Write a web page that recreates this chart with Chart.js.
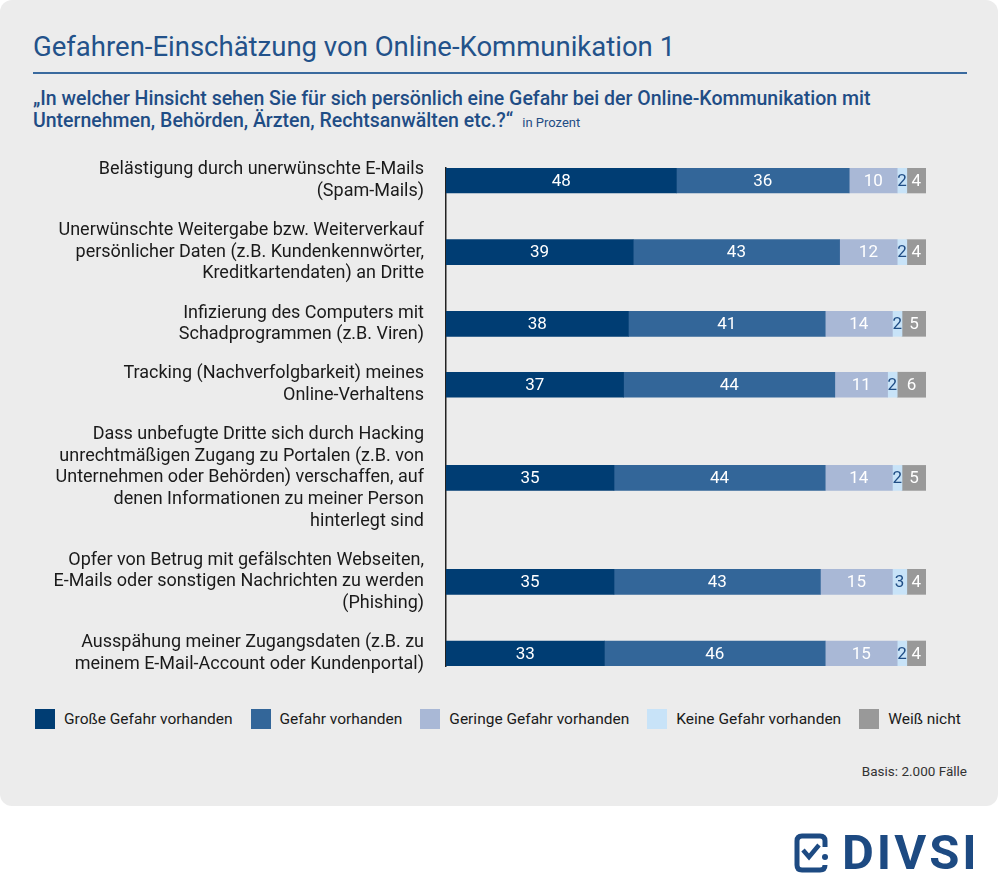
<!DOCTYPE html>
<html lang="de">
<head>
<meta charset="utf-8">
<title>Gefahren-Einschätzung von Online-Kommunikation 1</title>
<script src="https://cdn.jsdelivr.net/npm/chart.js@4.4.1/dist/chart.umd.min.js"></script>
<style>
  html, body { margin: 0; padding: 0; background: #fff; }
  body { width: 1000px; height: 890px; position: relative; overflow: hidden; font-family: Roboto, "Noto Sans", sans-serif; }
  #panel { position: absolute; left: 0; top: 0; width: 998px; height: 806px; background: #ececec; border-radius: 12px; }
  #title { position: absolute; left: 33px; top: 30px; font-size: 27.5px; color: #23528a; white-space: nowrap; }
  #rule { position: absolute; left: 33px; top: 72px; width: 934px; border-top: 2px solid #3a6a9e; }
  #question { position: absolute; left: 33px; top: 88px; font-size: 19.5px; font-weight: 500; color: #1f4d85; line-height: 22px; white-space: nowrap; }
  #question small { font-size: 13px; font-weight: normal; margin-left: 9px; }
  #chartBox { position: absolute; left: 0; top: 140px; width: 1000px; height: 554px; }
  #legend { position: absolute; left: 35px; top: 709px; display: flex; gap: 18px; font-size: 15.5px; color: #1a1a1a; white-space: nowrap; }
  #legend .item { display: flex; align-items: center; }
  #legend .swatch { width: 20px; height: 20px; margin-right: 9px; }
  #basis { position: absolute; right: 33px; top: 763px; font-size: 13.5px; color: #333; }
  #logo { position: absolute; left: 794px; top: 828px; display: flex; align-items: center; }
  #logo span { font-size: 49px; font-weight: bold; color: #1d4a82; letter-spacing: 3px; margin-left: 12px; line-height: 49px; }
</style>
</head>
<body>
<div id="panel"></div>
<div id="title">Gefahren-Einschätzung von Online-Kommunikation 1</div>
<div id="rule"></div>
<div id="question">„In welcher Hinsicht sehen Sie für sich persönlich eine Gefahr bei der Online-Kommunikation mit<br>Unternehmen, Behörden, Ärzten, Rechtsanwälten etc.?“<small>in Prozent</small></div>
<div id="chartBox"><canvas id="chart" width="1000" height="554"></canvas></div>
<div id="legend"></div>
<div id="basis">Basis: 2.000 Fälle</div>
<div id="logo">
  <svg width="36" height="40" viewBox="0 0 36 40">
    <path d="M31 14 V8 Q31 3 26 3 H8 Q3 3 3 8 V32 Q3 37 8 37 H26 Q31 37 31 32" fill="none" stroke="#1d4a82" stroke-width="5"/>
    <circle cx="31" cy="24" r="3" fill="#1d4a82"/>
    <path d="M9 17 L15 24 L25 12" fill="none" stroke="#1d4a82" stroke-width="4.5"/>
  </svg>
  <span>DIVSI</span>
</div>
<script>
const categories = [
  ["Belästigung durch unerwünschte E-Mails", "(Spam-Mails)"],
  ["Unerwünschte Weitergabe bzw. Weiterverkauf", "persönlicher Daten (z.B. Kundenkennwörter,", "Kreditkartendaten) an Dritte"],
  ["Infizierung des Computers mit", "Schadprogrammen (z.B. Viren)"],
  ["Tracking (Nachverfolgbarkeit) meines", "Online-Verhaltens"],
  ["Dass unbefugte Dritte sich durch Hacking", "unrechtmäßigen Zugang zu Portalen (z.B. von", "Unternehmen oder Behörden) verschaffen, auf", "denen Informationen zu meiner Person", "hinterlegt sind"],
  ["Opfer von Betrug mit gefälschten Webseiten,", "E-Mails oder sonstigen Nachrichten zu werden", "(Phishing)"],
  ["Ausspähung meiner Zugangsdaten (z.B. zu", "meinem E-Mail-Account oder Kundenportal)"]
];

const seriesNames = ["Große Gefahr vorhanden", "Gefahr vorhanden", "Geringe Gefahr vorhanden", "Keine Gefahr vorhanden", "Weiß nicht"];
const grosseGefahr = [48, 39, 38, 37, 35, 35, 33];
const gefahr = [36, 43, 41, 44, 44, 43, 46];
const geringeGefahr = [10, 12, 14, 11, 14, 15, 15];
const keineGefahr = [2, 2, 2, 2, 2, 3, 2];
const weissNicht = [4, 4, 5, 6, 5, 4, 4];

const seriesColors = ["#003d73", "#336699", "#a9b8d6", "#c8e3f8", "#999999"];
const valueColors = ["#ffffff", "#ffffff", "#ffffff", "#1f4d85", "#ffffff"];

// rows are spaced by how many lines their label has
const gapLines = 0.83;
const rowPos = [];
categories.forEach((lines, i) => {
  rowPos.push(i === 0 ? 0 : rowPos[i - 1] + (categories[i - 1].length + lines.length) / 2 + gapLines);
});
const halfBar = 0.58;

const allSeries = [grosseGefahr, gefahr, geringeGefahr, keineGefahr, weissNicht];

// legend
const legendEl = document.getElementById("legend");
seriesNames.forEach((name, i) => {
  const item = document.createElement("div");
  item.className = "item";
  item.innerHTML = `<div class="swatch" style="background:${seriesColors[i]}"></div><span>${name}</span>`;
  legendEl.appendChild(item);
});

const valueLabels = {
  id: "valueLabels",
  afterDatasetsDraw(chart) {
    const ctx = chart.ctx;
    ctx.save();
    ctx.font = "17px Roboto";
    ctx.textAlign = "center";
    ctx.textBaseline = "middle";
    chart.data.datasets.forEach((ds, di) => {
      chart.getDatasetMeta(di).data.forEach((bar, i) => {
        ctx.fillStyle = valueColors[di];
        ctx.fillText(ds.data[i].x, (bar.x + bar.base) / 2, bar.y + 1);
      });
    });
    ctx.restore();
  }
};

new Chart(document.getElementById("chart"), {
  type: "bar",
  data: {
    datasets: allSeries.map((vals, si) => ({
      label: seriesNames[si],
      data: vals.map((v, i) => ({ x: v, y: rowPos[i] })),
      backgroundColor: seriesColors[si],
      borderWidth: 0,
      barThickness: 25
    }))
  },
  options: {
    indexAxis: "y",
    responsive: false,
    animation: false,
    layout: { padding: { left: 0, right: 74, top: 28, bottom: 28 } },
    plugins: { legend: { display: false }, tooltip: { enabled: false } },
    scales: {
      x: { stacked: true, min: 0, max: 100, display: false },
      y: {
        type: "linear",
        stacked: true,
        reverse: true,
        offset: false,
        min: -halfBar,
        max: rowPos[rowPos.length - 1] + halfBar,
        afterBuildTicks: s => { s.ticks = rowPos.map(v => ({ value: v })); },
        afterFit: s => { s.width = 446; s.paddingTop = 0; s.paddingBottom = 0; },
        grid: { display: false, drawTicks: false, offset: false },
        border: { display: true, color: "#222", width: 1.5 },
        ticks: {
          autoSkip: false,
          padding: 22,
          color: "#1a1a1a",
          font: { family: "Roboto", size: 18, lineHeight: 1.2 },
          callback: (v, i) => categories[i]
        }
      }
    }
  },
  plugins: [valueLabels]
});
</script>
</body>
</html>
